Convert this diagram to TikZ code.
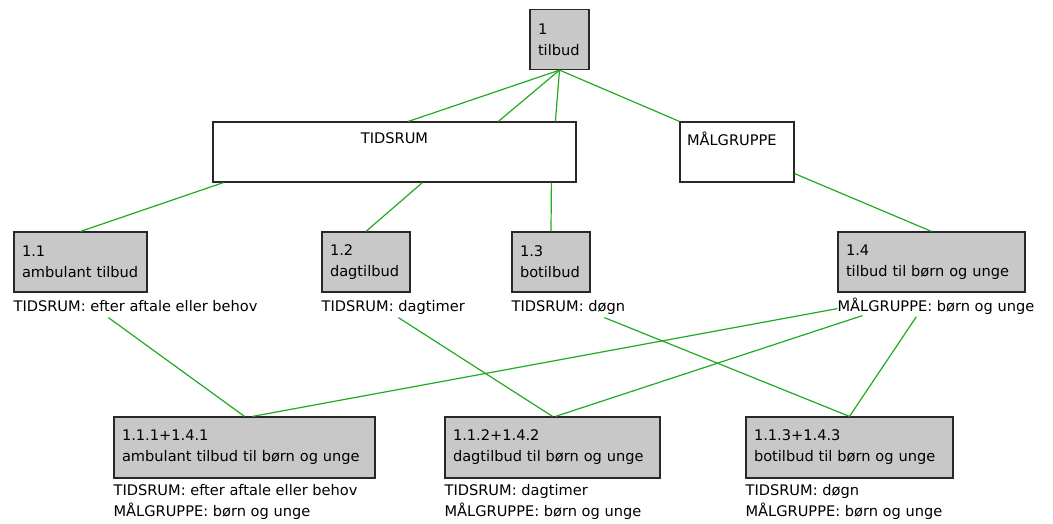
\documentclass[tikz,border=0pt]{standalone}
\usepackage{fontspec}
\setmainfont{DejaVu Sans}
\usetikzlibrary{calc}
\definecolor{boxgray}{RGB}{200,200,200}
\definecolor{linegreen}{RGB}{34,170,34}
\definecolor{boxline}{RGB}{40,40,40}
\begin{document}
\begin{tikzpicture}[x=1pt,y=-1pt,
  every node/.style={font=\fontsize{14.6pt}{21pt}\selectfont},
  gbox/.style={draw=boxline,line width=1.2pt,fill=boxgray,inner xsep=8pt,inner ysep=0pt,align=left,minimum height=60pt},
  wbox/.style={draw=boxline,line width=1.2pt,fill=white,inner xsep=8pt,inner ysep=0pt,minimum height=60pt},
  lbl/.style={anchor=base west,align=left,inner sep=0pt},
  conn/.style={draw=linegreen,line width=1.2pt}]
\useasboundingbox[fill=white] (0,0) rectangle (1053,523);
% nodes
\node[gbox,text width=43pt] (n1) at (559.5,39.5) {1\\tilbud};
\node[wbox,text width=347pt,align=center] (tid) at (394.5,152) {TIDSRUM\\\strut};
\node[wbox,inner xsep=7pt,text width=100pt,align=left] (mal) at (737,152) {MÅLGRUPPE\\\strut};
\node[gbox,text width=117pt] (n11) at (80.5,262) {1.1\\ambulant tilbud};
\node[gbox,text width=72pt] (n12) at (366,262) {1.2\\dagtilbud};
\node[gbox,text width=62pt] (n13) at (551,262) {1.3\\botilbud};
\node[gbox,text width=171pt] (n14) at (931.5,262) {1.4\\tilbud til børn og unge};
\node[gbox,text width=245pt,minimum height=61pt] (n111) at (244.5,447.5) {1.1.1+1.4.1\\ambulant tilbud til børn og unge};
\node[gbox,text width=199pt,minimum height=61pt] (n112) at (552.5,447.5) {1.1.2+1.4.2\\dagtilbud til børn og unge};
\node[gbox,text width=191pt,minimum height=61pt] (n113) at (849.5,447.5) {1.1.3+1.4.3\\botilbud til børn og unge};
% labels
\node[lbl] (l11) at ([yshift=-18.5pt]n11.south west) {TIDSRUM: efter aftale eller behov};
\node[lbl] (l12) at ([yshift=-18.5pt]n12.south west) {TIDSRUM: dagtimer};
\node[lbl] (l13) at ([yshift=-18.5pt]n13.south west) {TIDSRUM: døgn};
\node[lbl] (l14) at ([yshift=-18.5pt]n14.south west) {MÅLGRUPPE: børn og unge};
\node[lbl] (l111) at ([yshift=-38pt]n111.south west) {TIDSRUM: efter aftale eller behov\\MÅLGRUPPE: børn og unge};
\node[lbl] (l112) at ([yshift=-38pt]n112.south west) {TIDSRUM: dagtimer\\MÅLGRUPPE: børn og unge};
\node[lbl] (l113) at ([yshift=-38pt]n113.south west) {TIDSRUM: døgn\\MÅLGRUPPE: børn og unge};
% connectors
\draw[conn] (n1.south) -- ([xshift=196pt]tid.north west);
\draw[conn] (n1.south) -- ([xshift=286pt]tid.north west);
\draw[conn] (n1.south) -- ([xshift=343pt]tid.north west);
\draw[conn] (n1.south) -- (mal.north west);
\draw[conn] ([xshift=11pt]tid.south west) -- (n11.north);
\draw[conn] ([xshift=210pt]tid.south west) -- (n12.north);
\draw[conn] ([xshift=339pt]tid.south west) -- (n13.north);
\draw[conn] ([yshift=9pt]mal.south east) -- (n14.north);
\draw[conn] ([shift={(95pt,-25pt)}]n11.south west) -- (n111.north);
\draw[conn] ([shift={(77pt,-25pt)}]n12.south west) -- (n112.north);
\draw[conn] ([shift={(93pt,-25pt)}]n13.south west) -- (n113.north);
\draw[conn] ([shift={(0pt,-16pt)}]n14.south west) -- ([xshift=8pt]n111.north);
\draw[conn] ([shift={(25pt,-23pt)}]n14.south west) -- ([xshift=3pt]n112.north);
\draw[conn] ([shift={(79pt,-24pt)}]n14.south west) -- (n113.north);
\end{tikzpicture}
\end{document}
